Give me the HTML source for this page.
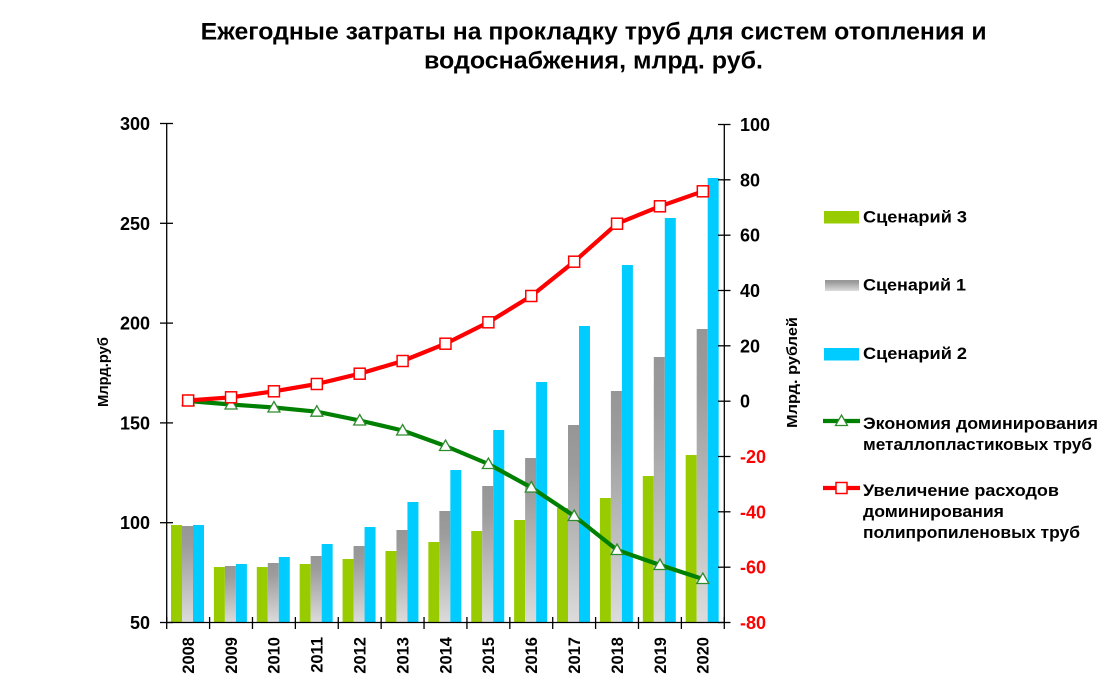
<!DOCTYPE html>
<html>
<head>
<meta charset="utf-8">
<style>
  html, body { margin: 0; padding: 0; background: #ffffff; }
  svg { display: block; }
  text { font-family: "Liberation Sans", "DejaVu Sans", sans-serif; font-weight: bold; fill: #000; }
</style>
</head>
<body>
<svg width="1111" height="694" viewBox="0 0 1111 694" xmlns="http://www.w3.org/2000/svg">
  <defs>
    <linearGradient id="gg" x1="0" y1="0" x2="0" y2="1">
      <stop offset="0" stop-color="#969696"/>
      <stop offset="0.2" stop-color="#9c9c9c"/>
      <stop offset="1" stop-color="#dcdcdc"/>
    </linearGradient>
  </defs>
  <rect x="0" y="0" width="1111" height="694" fill="#ffffff"/>

  <!-- Title -->
  <text x="200.7" y="39.5" font-size="24" textLength="786" lengthAdjust="spacingAndGlyphs">Ежегодные затраты на прокладку труб для систем отопления и</text>
  <text x="424" y="68.5" font-size="24" textLength="339" lengthAdjust="spacingAndGlyphs">водоснабжения, млрд. руб.</text>

  <!-- Bars: green (Сценарий 3) -->
  <g fill="#99CC00">
    <rect x="171.0" y="525" width="11" height="98"/>
    <rect x="213.89" y="567" width="11" height="56"/>
    <rect x="256.78" y="567" width="11" height="56"/>
    <rect x="299.67" y="564" width="11" height="59"/>
    <rect x="342.56" y="559" width="11" height="64"/>
    <rect x="385.45" y="551" width="11" height="72"/>
    <rect x="428.34" y="542" width="11" height="81"/>
    <rect x="471.23" y="531" width="11" height="92"/>
    <rect x="514.12" y="520" width="11" height="103"/>
    <rect x="557.01" y="508" width="11" height="115"/>
    <rect x="599.9" y="498" width="11" height="125"/>
    <rect x="642.79" y="476" width="11" height="147"/>
    <rect x="685.68" y="455" width="11" height="168"/>
  </g>
  <!-- Bars: gray (Сценарий 1) -->
  <g fill="url(#gg)">
    <rect x="182.0" y="526" width="11" height="97"/>
    <rect x="224.89" y="566" width="11" height="57"/>
    <rect x="267.78" y="563" width="11" height="60"/>
    <rect x="310.67" y="556" width="11" height="67"/>
    <rect x="353.56" y="546" width="11" height="77"/>
    <rect x="396.45" y="530" width="11" height="93"/>
    <rect x="439.34" y="511" width="11" height="112"/>
    <rect x="482.23" y="486" width="11" height="137"/>
    <rect x="525.12" y="458" width="11" height="165"/>
    <rect x="568.01" y="425" width="11" height="198"/>
    <rect x="610.9" y="391" width="11" height="232"/>
    <rect x="653.79" y="357" width="11" height="266"/>
    <rect x="696.68" y="329" width="11" height="294"/>
  </g>
  <!-- Bars: cyan (Сценарий 2) -->
  <g fill="#00CCFF">
    <rect x="193.0" y="525" width="11" height="98"/>
    <rect x="235.89" y="564" width="11" height="59"/>
    <rect x="278.78" y="557" width="11" height="66"/>
    <rect x="321.67" y="544" width="11" height="79"/>
    <rect x="364.56" y="527" width="11" height="96"/>
    <rect x="407.45" y="502" width="11" height="121"/>
    <rect x="450.34" y="470" width="11" height="153"/>
    <rect x="493.23" y="430" width="11" height="193"/>
    <rect x="536.12" y="382" width="11" height="241"/>
    <rect x="579.01" y="326" width="11" height="297"/>
    <rect x="621.9" y="265" width="11" height="358"/>
    <rect x="664.79" y="218" width="11" height="405"/>
    <rect x="707.68" y="178" width="11" height="445"/>
  </g>

  <!-- Axes -->
  <g stroke="#000" stroke-width="1.3" fill="none">
    <line x1="166.7" y1="123.3" x2="166.7" y2="622.5"/>
    <line x1="724.3" y1="124.5" x2="724.3" y2="622.5"/>
    <line x1="166.7" y1="622.5" x2="724.3" y2="622.5"/>
    <!-- left ticks -->
    <line x1="160" y1="123.5" x2="173" y2="123.5"/>
    <line x1="160" y1="223.3" x2="173" y2="223.3"/>
    <line x1="160" y1="323.1" x2="173" y2="323.1"/>
    <line x1="160" y1="422.9" x2="173" y2="422.9"/>
    <line x1="160" y1="522.7" x2="173" y2="522.7"/>
    <line x1="160" y1="622.5" x2="173" y2="622.5"/>
    <!-- right ticks -->
    <line x1="718" y1="124.5" x2="730.5" y2="124.5"/>
    <line x1="718" y1="179.8" x2="730.5" y2="179.8"/>
    <line x1="718" y1="235.2" x2="730.5" y2="235.2"/>
    <line x1="718" y1="290.5" x2="730.5" y2="290.5"/>
    <line x1="718" y1="345.8" x2="730.5" y2="345.8"/>
    <line x1="718" y1="401.2" x2="730.5" y2="401.2"/>
    <line x1="718" y1="456.5" x2="730.5" y2="456.5"/>
    <line x1="718" y1="511.8" x2="730.5" y2="511.8"/>
    <line x1="718" y1="567.2" x2="730.5" y2="567.2"/>
    <line x1="718" y1="622.5" x2="730.5" y2="622.5"/>
    <!-- bottom ticks -->
    <line x1="166.7" y1="617" x2="166.7" y2="629"/>
    <line x1="209.59" y1="617" x2="209.59" y2="629"/>
    <line x1="252.48" y1="617" x2="252.48" y2="629"/>
    <line x1="295.37" y1="617" x2="295.37" y2="629"/>
    <line x1="338.26" y1="617" x2="338.26" y2="629"/>
    <line x1="381.15" y1="617" x2="381.15" y2="629"/>
    <line x1="424.04" y1="617" x2="424.04" y2="629"/>
    <line x1="466.93" y1="617" x2="466.93" y2="629"/>
    <line x1="509.82" y1="617" x2="509.82" y2="629"/>
    <line x1="552.71" y1="617" x2="552.71" y2="629"/>
    <line x1="595.6" y1="617" x2="595.6" y2="629"/>
    <line x1="638.49" y1="617" x2="638.49" y2="629"/>
    <line x1="681.38" y1="617" x2="681.38" y2="629"/>
    <line x1="724.27" y1="617" x2="724.27" y2="629"/>
  </g>

  <!-- Left tick labels -->
  <g font-size="18" text-anchor="end">
    <text x="150" y="130">300</text>
    <text x="150" y="229.8">250</text>
    <text x="150" y="329.6">200</text>
    <text x="150" y="429.4">150</text>
    <text x="150" y="529.2">100</text>
    <text x="150" y="629">50</text>
  </g>
  <!-- Right tick labels -->
  <g font-size="18" text-anchor="start">
    <text x="740" y="131">100</text>
    <text x="740" y="186.3">80</text>
    <text x="740" y="241.7">60</text>
    <text x="740" y="297">40</text>
    <text x="740" y="352.3">20</text>
    <text x="740" y="407.7">0</text>
    <text x="740" y="463" style="fill:#FF0000">-20</text>
    <text x="740" y="518.3" style="fill:#FF0000">-40</text>
    <text x="740" y="573.7" style="fill:#FF0000">-60</text>
    <text x="740" y="629" style="fill:#FF0000">-80</text>
  </g>

  <!-- Year labels -->
  <g font-size="16.5" text-anchor="end">
    <text transform="translate(193.9,637) rotate(-90)">2008</text>
    <text transform="translate(236.8,637) rotate(-90)">2009</text>
    <text transform="translate(279.7,637) rotate(-90)">2010</text>
    <text transform="translate(322.6,637) rotate(-90)">2011</text>
    <text transform="translate(365.5,637) rotate(-90)">2012</text>
    <text transform="translate(408.4,637) rotate(-90)">2013</text>
    <text transform="translate(451.3,637) rotate(-90)">2014</text>
    <text transform="translate(494.2,637) rotate(-90)">2015</text>
    <text transform="translate(537.1,637) rotate(-90)">2016</text>
    <text transform="translate(580.0,637) rotate(-90)">2017</text>
    <text transform="translate(622.9,637) rotate(-90)">2018</text>
    <text transform="translate(665.8,637) rotate(-90)">2019</text>
    <text transform="translate(708.6,637) rotate(-90)">2020</text>
  </g>

  <!-- Axis titles -->
  <text transform="translate(108,372) rotate(-90)" font-size="14.5" text-anchor="middle" textLength="70" lengthAdjust="spacingAndGlyphs">Млрд.руб</text>
  <text transform="translate(797,372.5) rotate(-90)" font-size="14.5" text-anchor="middle" textLength="111" lengthAdjust="spacingAndGlyphs">Млрд. рублей</text>

  <!-- Green line (economy) -->
  <polyline fill="none" stroke="#008000" stroke-width="4.2" stroke-linejoin="round"
    points="188.15,401 231.04,404.5 273.93,407.5 316.82,411.7 359.71,420.5 402.6,430.5 445.49,446 488.38,464 531.27,487.5 574.16,516 617.05,550 659.94,565 702.83,579"/>
  <g fill="#ffffff" stroke="#2e8b2e" stroke-width="1.3">
    <path d="M188.15,395 L194.15,405.5 L182.15,405.5 Z"/>
    <path d="M231.04,398.5 L237.04,409 L225.04,409 Z"/>
    <path d="M273.93,401.5 L279.93,412 L267.93,412 Z"/>
    <path d="M316.82,405.7 L322.82,416.2 L310.82,416.2 Z"/>
    <path d="M359.71,414.5 L365.71,425 L353.71,425 Z"/>
    <path d="M402.6,424.5 L408.6,435 L396.6,435 Z"/>
    <path d="M445.49,440 L451.49,450.5 L439.49,450.5 Z"/>
    <path d="M488.38,458 L494.38,468.5 L482.38,468.5 Z"/>
    <path d="M531.27,481.5 L537.27,492 L525.27,492 Z"/>
    <path d="M574.16,510 L580.16,520.5 L568.16,520.5 Z"/>
    <path d="M617.05,544 L623.05,554.5 L611.05,554.5 Z"/>
    <path d="M659.94,559 L665.94,569.5 L653.94,569.5 Z"/>
    <path d="M702.83,573 L708.83,583.5 L696.83,583.5 Z"/>
  </g>

  <!-- Red line (increase) -->
  <polyline fill="none" stroke="#FF0000" stroke-width="4.2" stroke-linejoin="round"
    points="188.15,400.5 231.04,397.3 273.93,391.3 316.82,384 359.71,373.7 402.6,361 445.49,343.7 488.38,322.3 531.27,296 574.16,261.7 617.05,223.7 659.94,206.3 702.83,191.3"/>
  <g fill="#ffffff" stroke="#FF0000" stroke-width="1.5">
    <rect x="182.65" y="395" width="11" height="11"/>
    <rect x="225.54" y="391.8" width="11" height="11"/>
    <rect x="268.43" y="385.8" width="11" height="11"/>
    <rect x="311.32" y="378.5" width="11" height="11"/>
    <rect x="354.21" y="368.2" width="11" height="11"/>
    <rect x="397.1" y="355.5" width="11" height="11"/>
    <rect x="439.99" y="338.2" width="11" height="11"/>
    <rect x="482.88" y="316.8" width="11" height="11"/>
    <rect x="525.77" y="290.5" width="11" height="11"/>
    <rect x="568.66" y="256.2" width="11" height="11"/>
    <rect x="611.55" y="218.2" width="11" height="11"/>
    <rect x="654.44" y="200.8" width="11" height="11"/>
    <rect x="697.33" y="185.8" width="11" height="11"/>
  </g>

  <!-- Legend -->
  <rect x="824" y="211" width="35" height="12.5" fill="#99CC00"/>
  <text x="863" y="222.5" font-size="17" textLength="104" lengthAdjust="spacingAndGlyphs">Сценарий 3</text>

  <rect x="825" y="280" width="34" height="11" fill="url(#gg)"/>
  <text x="863" y="290.5" font-size="17" textLength="103" lengthAdjust="spacingAndGlyphs">Сценарий 1</text>

  <rect x="824" y="348" width="35" height="12.5" fill="#00CCFF"/>
  <text x="863" y="359" font-size="17" textLength="104" lengthAdjust="spacingAndGlyphs">Сценарий 2</text>

  <line x1="823" y1="421" x2="860" y2="421" stroke="#008000" stroke-width="4.2"/>
  <path d="M841.5,415 L847.5,425.5 L835.5,425.5 Z" fill="#ffffff" stroke="#2e8b2e" stroke-width="1.3"/>
  <text x="863" y="429" font-size="17" textLength="235" lengthAdjust="spacingAndGlyphs">Экономия доминирования</text>
  <text x="863" y="450" font-size="17" textLength="229" lengthAdjust="spacingAndGlyphs">металлопластиковых труб</text>

  <line x1="823" y1="488" x2="860" y2="488" stroke="#FF0000" stroke-width="4.2"/>
  <rect x="836" y="482.5" width="11" height="11" fill="#ffffff" stroke="#FF0000" stroke-width="1.5"/>
  <text x="863" y="496" font-size="17" textLength="196" lengthAdjust="spacingAndGlyphs">Увеличение расходов</text>
  <text x="863" y="517" font-size="17" textLength="141" lengthAdjust="spacingAndGlyphs">доминирования</text>
  <text x="863" y="538" font-size="17" textLength="217" lengthAdjust="spacingAndGlyphs">полипропиленовых труб</text>
</svg>
</body>
</html>
